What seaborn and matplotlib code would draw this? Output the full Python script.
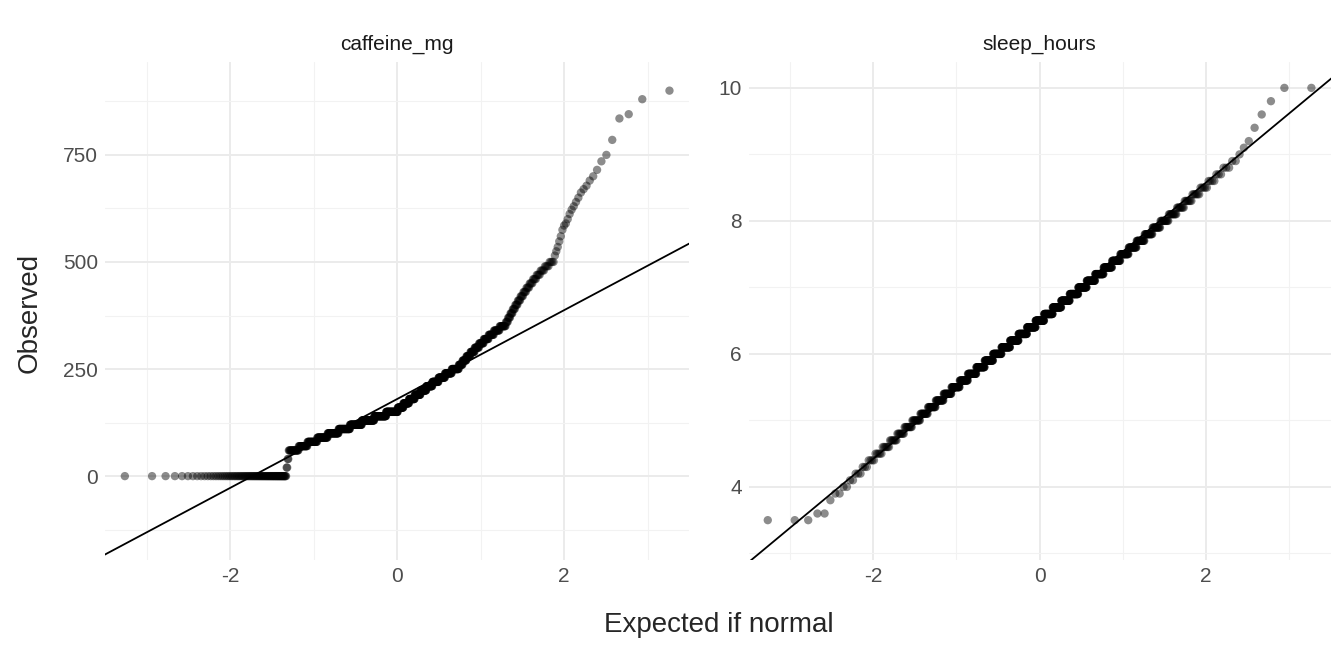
import numpy as np
import pandas as pd
import matplotlib
matplotlib.use("Agg")
import matplotlib.pyplot as plt
import seaborn as sns
from statistics import NormalDist

# sleep_hours: value -> count
sleep_values = [round(3.5 + 0.1 * i, 1) for i in range(66)]
sleep_counts = [3,2,0,1,2,2,2,3,3,4, 5,6,7,8,10, 12,13,15,17,19, 22,24,27,29,31,
                33,35,36,37,38, 38,38,37,36,35, 33,31,29,27,24, 22,19,17,15,13,
                12,10,8,7,6, 5,4,3,3,2, 1,1,1,0,1,0,1,0,1,0,2]

# caffeine_mg: value -> count
caff_values = [0, 20, 40] + list(range(60, 160, 10)) + list(range(160, 260, 10)) + \
              list(range(260, 360, 10)) + list(range(360, 510, 10)) + \
              [515, 525, 535, 548, 560, 575, 585, 590, 600, 612, 622, 630, 640, 650,
               662, 670, 678, 690, 700, 715, 735, 750, 785, 835, 845, 880, 900]
caff_counts = [83, 2, 2] + [20, 20, 25, 30, 35, 40, 45, 50, 50, 50] + [24] * 10 + \
              [12] * 10 + [4] * 15 + [1] * 27

def qq(values, counts):
    obs = np.repeat(np.array(values, float), counts)
    obs.sort()
    n = len(obs)
    nd = NormalDist()
    theo = np.array([nd.inv_cdf((i - 0.5) / n) for i in range(1, n + 1)])
    q25, q75 = np.quantile(obs, [0.25, 0.75])
    z25, z75 = nd.inv_cdf(0.25), nd.inv_cdf(0.75)
    slope = (q75 - q25) / (z75 - z25)
    inter = q25 - slope * z25
    return pd.DataFrame({"theo": theo, "obs": obs}), slope, inter

sns.set_theme(style="white")
plt.rcParams['font.family'] = ['Liberation Sans', 'DejaVu Sans']
fig = plt.figure(figsize=(13.44, 6.52), dpi=100)
ax1 = fig.add_axes([0.078, 0.141, 0.435, 0.764])
ax2 = fig.add_axes([0.557, 0.141, 0.433, 0.764])

panels = [
    (ax1, "caffeine_mg", caff_values, caff_counts, (-196, 967), [0, 250, 500, 750], [-125, 125, 375, 625, 875]),
    (ax2, "sleep_hours", sleep_values, sleep_counts, (2.9, 10.39), [4, 6, 8, 10], [3, 5, 7, 9]),
]
for ax, title, v, c, ylim, yt, ymin in panels:
    df, s, b = qq(v, c)
    sns.scatterplot(data=df, x="theo", y="obs", ax=ax, color="black", alpha=0.45,
                    s=36, edgecolor="none", linewidth=0)
    xs = np.array([-3.6, 3.6])
    ax.plot(xs, b + s * xs, color="black", lw=1.3)
    ax.set_xlim(-3.5, 3.5)
    ax.set_ylim(*ylim)
    ax.set_xticks([-2, 0, 2])
    ax.set_xticklabels(["-2", "0", "2"])
    ax.set_xticks([-3, -1, 1, 3], minor=True)
    ax.set_yticks(yt)
    ax.set_yticks(ymin, minor=True)
    ax.grid(True, which="major", color="#EBEBEB", lw=1.4)
    ax.grid(True, which="minor", color="#F2F2F2", lw=0.8)
    ax.set_axisbelow(True)
    for sp in ax.spines.values():
        sp.set_visible(False)
    ax.tick_params(axis="both", which="both", length=0, labelsize=15, colors="#4D4D4D", pad=5)
    ax.set_xlabel("")
    ax.set_ylabel("")
    ax.set_title(title, fontsize=15, color="#1A1A1A", pad=9)

fig.text(0.535, 0.03, "Expected if normal", ha="center", fontsize=20)
fig.text(0.012, 0.52, "Observed", va="center", rotation=90, fontsize=20)
fig.savefig("out.png", dpi=100)
